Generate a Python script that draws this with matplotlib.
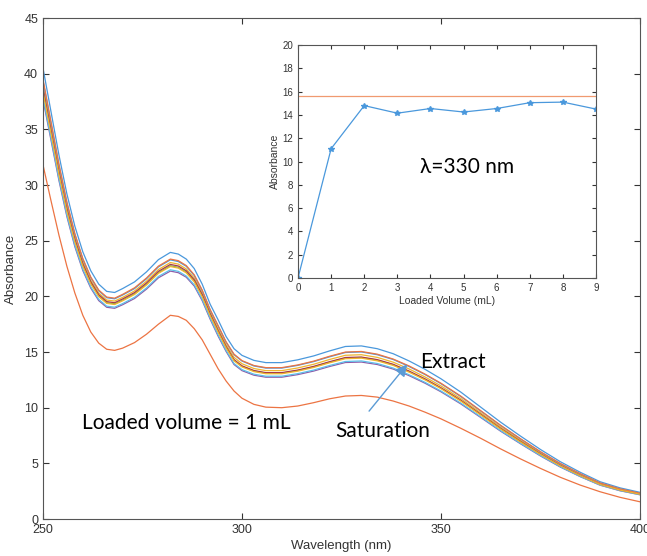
import matplotlib.pyplot as plt

# wavelength grid (nm)
wl = [250, 252, 254, 256, 258, 260, 262, 264, 266, 268, 270, 273, 276, 279, 282, 284,
      286, 288, 290, 292, 294, 296, 298, 300, 303, 306, 310, 314, 318, 322, 326, 330,
      334, 338, 342, 346, 350, 355, 360, 365, 370, 375, 380, 385, 390, 395, 400]

# absorbance spectra
extract = [40.5, 36.6, 32.7, 29.2, 26.3, 24.0, 22.3, 21.1, 20.45, 20.35, 20.7, 21.3, 22.2, 23.3, 23.95, 23.8,
           23.35, 22.5, 21.1, 19.3, 17.9, 16.4, 15.3, 14.7, 14.25, 14.05, 14.05, 14.3, 14.65, 15.1, 15.5, 15.55,
           15.3, 14.85, 14.2, 13.45, 12.6, 11.4, 10.05, 8.7, 7.45, 6.25, 5.15, 4.2, 3.35, 2.8, 2.4]
ml1 = [31.8, 28.6, 25.5, 22.7, 20.3, 18.3, 16.8, 15.8, 15.25, 15.15, 15.35, 15.85, 16.6, 17.5, 18.3, 18.2,
       17.85, 17.1, 16.1, 14.8, 13.5, 12.4, 11.5, 10.85, 10.3, 10.05, 10.0, 10.15, 10.45, 10.8, 11.05, 11.1,
       10.95, 10.6, 10.15, 9.6, 9.0, 8.15, 7.25, 6.3, 5.4, 4.55, 3.75, 3.05, 2.45, 1.95, 1.55]
ml2 = [38.96, 35.21, 31.46, 28.09, 25.30, 23.09, 21.45, 20.30, 19.67, 19.58, 19.91, 20.49, 21.36, 22.41, 23.04, 22.90,
       22.46, 21.65, 20.30, 18.57, 17.09, 15.66, 14.52, 13.95, 13.52, 13.33, 13.33, 13.57, 13.90, 14.33, 14.71, 14.76,
       14.52, 14.09, 13.48, 12.76, 11.96, 10.82, 9.54, 8.26, 7.07, 5.93, 4.89, 3.99, 3.18, 2.66, 2.28]
ml3 = [37.67, 34.04, 30.41, 27.16, 24.46, 22.32, 20.74, 19.62, 19.02, 18.93, 19.25, 19.81, 20.65, 21.67, 22.27, 22.13,
       21.72, 20.93, 19.62, 17.95, 16.43, 15.06, 13.88, 13.33, 12.92, 12.74, 12.74, 12.97, 13.29, 13.70, 14.06, 14.10,
       13.88, 13.47, 12.88, 12.20, 11.43, 10.34, 9.12, 7.89, 6.76, 5.67, 4.67, 3.81, 3.04, 2.54, 2.18]
ml4 = [38.48, 34.77, 31.07, 27.74, 24.99, 22.80, 21.19, 20.05, 19.43, 19.33, 19.67, 20.24, 21.09, 22.14, 22.75, 22.61,
       22.18, 21.38, 20.05, 18.34, 16.84, 15.43, 14.27, 13.72, 13.30, 13.11, 13.11, 13.34, 13.67, 14.09, 14.46, 14.51,
       14.27, 13.86, 13.25, 12.55, 11.76, 10.64, 9.38, 8.12, 6.95, 5.83, 4.80, 3.92, 3.13, 2.61, 2.24]
ml5 = [37.87, 34.22, 30.57, 27.30, 24.59, 22.44, 20.85, 19.73, 19.12, 19.03, 19.35, 19.92, 20.76, 21.79, 22.39, 22.25,
       21.83, 21.04, 19.73, 18.05, 16.54, 15.15, 13.97, 13.42, 13.01, 12.83, 12.83, 13.06, 13.38, 13.79, 14.15, 14.20,
       13.97, 13.56, 12.96, 12.28, 11.50, 10.41, 9.18, 7.94, 6.80, 5.71, 4.70, 3.83, 3.06, 2.56, 2.19]
ml6 = [38.68, 34.95, 31.23, 27.89, 25.12, 22.92, 21.30, 20.15, 19.53, 19.43, 19.77, 20.34, 21.20, 22.25, 22.87, 22.73,
       22.30, 21.49, 20.15, 18.43, 16.92, 15.50, 14.32, 13.76, 13.34, 13.15, 13.15, 13.38, 13.71, 14.13, 14.51, 14.55,
       14.32, 13.90, 13.29, 12.59, 11.79, 10.67, 9.41, 8.14, 6.97, 5.85, 4.82, 3.93, 3.14, 2.62, 2.25]
ml7 = [39.37, 35.58, 31.78, 28.38, 25.56, 23.33, 21.68, 20.51, 19.88, 19.78, 20.12, 20.70, 21.58, 22.65, 23.28, 23.13,
       22.70, 21.87, 20.51, 18.76, 17.33, 15.88, 14.76, 14.19, 13.75, 13.56, 13.56, 13.80, 14.14, 14.57, 14.96, 15.01,
       14.76, 14.33, 13.70, 12.98, 12.16, 11.00, 9.70, 8.40, 7.19, 6.03, 4.97, 4.05, 3.23, 2.70, 2.32]
ml8 = [39.49, 35.69, 31.88, 28.47, 25.64, 23.40, 21.74, 20.57, 19.94, 19.84, 20.18, 20.77, 21.65, 22.72, 23.35, 23.21,
       22.77, 21.94, 20.57, 18.82, 17.38, 15.92, 14.81, 14.23, 13.79, 13.60, 13.60, 13.84, 14.18, 14.62, 15.00, 15.05,
       14.81, 14.37, 13.75, 13.02, 12.20, 11.04, 9.73, 8.42, 7.21, 6.05, 4.99, 4.07, 3.24, 2.71, 2.32]
ml9 = [38.35, 34.66, 30.97, 27.65, 24.91, 22.73, 21.12, 19.98, 19.37, 19.27, 19.60, 20.17, 21.02, 22.07, 22.68, 22.54,
       22.11, 21.31, 19.98, 18.28, 16.79, 15.38, 14.21, 13.66, 13.24, 13.05, 13.05, 13.28, 13.61, 14.03, 14.40, 14.45,
       14.21, 13.80, 13.19, 12.50, 11.71, 10.59, 9.34, 8.08, 6.92, 5.81, 4.78, 3.90, 3.11, 2.60, 2.23]

spectra = [extract, ml1, ml2, ml3, ml4, ml5, ml6, ml7, ml8, ml9]
colores = ['#4a98dc', '#ec7443', '#f0b52e', '#8e5ba8', '#7db84c',
           '#5cc0ea', '#a8394a', '#4a98dc', '#ec7443', '#f0b52e']

# inset: absorbance at 330 nm vs loaded volume
volumen = [0, 1, 2, 3, 4, 5, 6, 7, 8, 9]
abs330 = [0, 11.1, 14.8, 14.15, 14.55, 14.25, 14.55, 15.05, 15.1, 14.5]
abs_extracto = 15.6

plt.rcParams['font.family'] = ['Liberation Sans', 'DejaVu Sans']
gris = '#555555'
fig = plt.figure(figsize=(6.47, 5.56), dpi=100)
ax = fig.add_axes([0.0665, 0.0665, 0.9225, 0.901])
for s, c in zip(spectra, colores):
    ax.plot(wl, s, color=c, lw=0.9)
ax.set_xlim(250, 400)
ax.set_ylim(0, 45)
ax.set_xticks([250, 300, 350, 400])
ax.set_yticks(range(0, 46, 5))
ax.tick_params(direction='in', top=True, right=True, labelsize=9, colors='#333333', length=4)
for sp in ax.spines.values():
    sp.set_color(gris)
ax.set_xlabel('Wavelength (nm)', fontsize=9.5, color='#333333', labelpad=3)
ax.set_ylabel('Absorbance', fontsize=9.5, color='#333333', labelpad=5)

ax.text(344.8, 14.1, 'Extract', fontsize=15, family='Lato', va='center')
ax.text(323.5, 7.9, 'Saturation', fontsize=15, family='Lato', va='center')
ax.text(259.8, 8.6, 'Loaded volume = 1 mL', fontsize=15, family='Lato', va='center')
ax.annotate('', xy=(342, 14.1), xytext=(331.5, 9.5),
            arrowprops=dict(arrowstyle='-|>', color='#5b9bd5', lw=1.0, mutation_scale=18))

ins = fig.add_axes([0.4606, 0.5, 0.4606, 0.419])
ins.plot(volumen, abs330, color='#4a98dc', lw=0.9, marker='*', ms=4)
ins.axhline(abs_extracto, color='#f09a70', lw=0.9)
ins.set_xlim(0, 9)
ins.set_ylim(0, 20)
ins.set_xticks(volumen)
ins.set_yticks(range(0, 21, 2))
ins.tick_params(direction='in', top=True, right=True, labelsize=7, colors='#333333', length=3)
for sp in ins.spines.values():
    sp.set_color(gris)
ins.set_xlabel('Loaded Volume (mL)', fontsize=7.5, color='#333333', labelpad=2)
ins.set_ylabel('Absorbance', fontsize=7.5, color='#333333', labelpad=2)
ins.text(3.68, 9.5, 'λ=330 nm', fontsize=15, family='Lato', va='center')

fig.savefig('out.png', dpi=100)
